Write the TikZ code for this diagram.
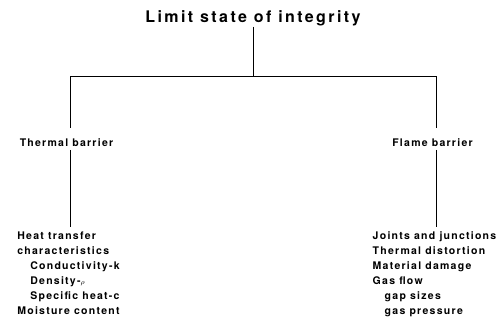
\documentclass[tikz,border=0pt]{standalone}
\usepackage{fontspec}
\newfontfamily\titlefont[LetterSpace=15]{TeX Gyre Heros}
\newfontfamily\itemfont[LetterSpace=12]{TeX Gyre Heros}
\begin{document}
\begin{tikzpicture}[line width=0.9pt,font=\itemfont\bfseries\fontsize{10.5}{15}\selectfont]
  \tikzstyle{title node}=[inner sep=0,anchor=base,font=\titlefont\bfseries\fontsize{16}{18}\selectfont]
  \tikzstyle{barrier node}=[anchor=base,xshift=-3.5pt,inner xsep=0,inner ysep=11pt,text height=7pt,text depth=0pt]
  \tikzstyle{list node}=[anchor=north,xshift=2pt,inner sep=0,align=left]
  \tikzstyle{level 1}=[level distance=128pt,sibling distance=366pt,
    edge from parent path={(\tikzparentnode.south) -- ++(0,-49pt) -| ([xshift=3.5pt]\tikzchildnode.north)}]
  \tikzstyle{level 2}=[level distance=88pt,
    edge from parent path={([xshift=3.5pt,yshift=-3pt]\tikzparentnode.base) -- ([xshift=3.5pt,yshift=4pt]\tikzparentnode.base |- \tikzchildnode.north)}]
  \useasboundingbox (-253pt,23pt) rectangle (250pt,-297pt);
  \node(root)[title node]{Limit state of integrity}
      child{node(thermal)[barrier node]{Thermal barrier}
          child{node(thermallist)[list node]{
              Heat transfer\\
              characteristics\\
              \hspace*{13pt}Conductivity-k\\
              \hspace*{13pt}Density-{\scriptsize$\rho$}\\
              \hspace*{13pt}Specific heat-c\\
              Moisture content}}
      }
      child{node(flame)[barrier node]{Flame barrier}
          child{node(flamelist)[list node]{
              Joints and junctions\\
              Thermal distortion\\
              Material damage\\
              Gas flow\\
              \hspace*{12pt}gap sizes\\
              \hspace*{12pt}gas pressure}}
      };
\end{tikzpicture}
\end{document}
